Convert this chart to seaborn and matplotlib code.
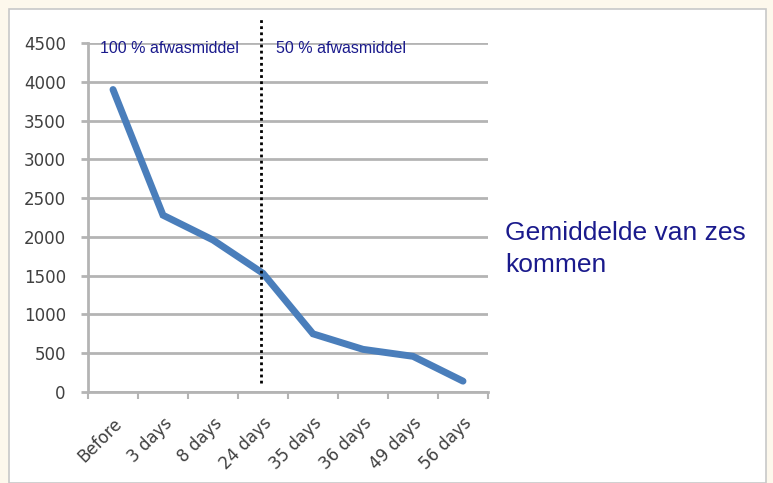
import seaborn as sns
import matplotlib.pyplot as plt
import matplotlib.patches as patches
import pandas as pd
import numpy as np

# data
days = ["Before", "3 days", "8 days", "24 days", "35 days", "36 days", "49 days", "56 days"]
values = [3900, 2280, 1960, 1530, 750, 550, 460, 140]
y_ticks = [0, 500, 1000, 1500, 2000, 2500, 3000, 3500, 4000, 4500]

df = pd.DataFrame({"day": days, "value": values})

sns.set_style("white")
plt.rcParams['font.family'] = ['DejaVu Sans']

fig = plt.figure(figsize=(7.73, 4.83), dpi=100)
fig.patch.set_facecolor("#fdf8ec")

# white slide panel with a faint grey edge
panel = patches.Rectangle((9 / 773, 0), 757 / 773, 1 - 9 / 483, transform=fig.transFigure,
                          facecolor="white", edgecolor="#c8c8c8", linewidth=1.2, zorder=-10)
fig.patches.append(panel)

ax = fig.add_axes([88 / 773, 1 - 392 / 483, 400 / 773, 349 / 483])
ax.set_facecolor("none")

sns.lineplot(data=df, x="day", y="value", sort=False, ax=ax,
             color="#4a7ebb", linewidth=5, solid_joinstyle="miter", zorder=3)

ax.set_xlim(-0.5, len(days) - 0.5)
ax.set_ylim(0, 4500)
ax.set_yticks(y_ticks)
ax.set_yticklabels([str(v) for v in y_ticks], fontsize=12, color="#404040")
ax.grid(axis="y", color="#b4b4b4", linewidth=2)
ax.grid(axis="x", visible=False)

ax.set_xticks(range(len(days)))
ax.set_xticklabels(days, rotation=45, ha="right", rotation_mode="anchor", fontsize=12, color="#404040")
ax.set_xticks(np.arange(-0.5, len(days), 1), minor=True)
ax.tick_params(axis="x", which="major", bottom=True, length=0, pad=16)
ax.tick_params(axis="x", which="minor", bottom=True, length=5, width=1.5, color="#b4b4b4",
               direction="out")
ax.tick_params(axis="y", left=True, length=5, width=2, color="#b4b4b4", direction="out", pad=11)

for side in ["top", "right"]:
    ax.spines[side].set_visible(False)
for side in ["left", "bottom"]:
    ax.spines[side].set_color("#b4b4b4")
    ax.spines[side].set_linewidth(2)

ax.set_xlabel("")
ax.set_ylabel("")

# dotted separator at 24 days
ax.plot([2.96, 2.96], [110, 4840], color="black", linestyle=(0, (1, 1.2)), linewidth=2,
        clip_on=False, zorder=4)

ax.text(-0.25, 4430, "100 % afwasmiddel", fontsize=11.5, color="#1a1a8c", va="center",
        family=["Liberation Sans", "DejaVu Sans"])
ax.text(3.25, 4430, "50 % afwasmiddel", fontsize=11.5, color="#1a1a8c", va="center",
        family=["Liberation Sans", "DejaVu Sans"])

fig.text(505 / 773, 1 - 249 / 483, "Gemiddelde van zes\nkommen", fontsize=19, color="#1a1a8c",
         va="center", ha="left", linespacing=1.45, family=["Liberation Sans", "DejaVu Sans"])

plt.savefig("out.png", dpi=100, facecolor=fig.get_facecolor())
